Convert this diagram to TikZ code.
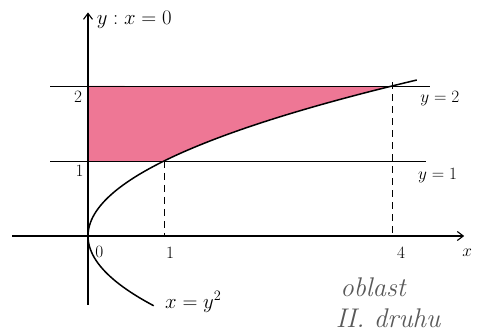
\documentclass[tikz,border=0pt]{standalone}
\usetikzlibrary{arrows.meta}
\definecolor{regionpink}{RGB}{236,104,138}
\tikzset{
  axis/.style={line width=1.1pt,-{Straight Barb[length=6pt,width=9pt]}},
  guide/.style={line width=0.9pt},
  dashguide/.style={line width=0.9pt,dash pattern=on 7pt off 5pt},
  curve/.style={line width=1.5pt},
  lbl/.style={font=\LARGE,inner sep=1pt},
  biglbl/.style={font=\fontsize{22}{22}\selectfont,inner sep=1pt},
  note/.style={font=\fontsize{27}{27}\selectfont\itshape,text=black!65,inner sep=1pt}
}
\begin{document}
\begin{tikzpicture}[x=1pt,y=1pt]
\useasboundingbox (0,0) rectangle (488,335);
\begin{scope}[shift={(88,99)},x=76pt,y=75pt]
  % fill region
  \fill[regionpink,opacity=0.9] plot[domain=1:2,variable=\t,samples=40] ({\t*\t},{\t}) -- (0,2) -- (0,1) -- cycle;
  % coordinates
  \coordinate (xs) at (-1.0,0);
  \coordinate (xe) at (4.95,0);
  \coordinate (ys) at (0,-0.92);
  \coordinate (ye) at (0,2.98);
  \coordinate (h2s) at (-0.5,2);
  \coordinate (h2e) at (4.5,2);
  \coordinate (h1s) at (-0.5,1);
  \coordinate (h1e) at (4.45,1);
  \coordinate (p1) at (1,1);
  \coordinate (q1) at (1,0);
  \coordinate (p4) at (4,2.05);
  \coordinate (q4) at (4,0);
  % axes
  \draw[axis] (xs) -- (xe);
  \draw[axis] (ys) -- (ye);
  % horizontal lines
  \draw[guide] (h2s) -- (h2e);
  \draw[guide] (h1s) -- (h1e);
  % dashed
  \draw[dashguide] (p1) -- (q1);
  \draw[dashguide] (p4) -- (q4);
  % curve
  \draw[curve] plot[domain=-0.93:2.08,variable=\t,samples=80,smooth] ({\t*\t},{\t});
  % labels
  \node[biglbl,anchor=west] (ylab) at (0.1,2.88) {$y : x = 0$};
  \node[lbl] (l2) at (-0.13,1.86) {$2$};
  \node[lbl] (l1) at (-0.11,0.87) {$1$};
  \node[lbl] (l0) at (0.15,-0.21) {$0$};
  \node[lbl] (lx1) at (1.08,-0.22) {$1$};
  \node[lbl] (lx4) at (4.12,-0.23) {$4$};
  \node[lbl] (lx) at (4.99,-0.23) {$x$};
  \node[lbl] (ly2) at (4.63,1.83) {$y=2$};
  \node[lbl] (ly1) at (4.6,0.8) {$y=1$};
  \node[biglbl,anchor=west] (par) at (1.0,-0.88) {$x=y^2$};
  \node[note] (n1) at (3.75,-0.68) {oblast};
  \node[note] (n2) at (3.95,-1.1) {II. druhu};
\end{scope}
\end{tikzpicture}
\end{document}
